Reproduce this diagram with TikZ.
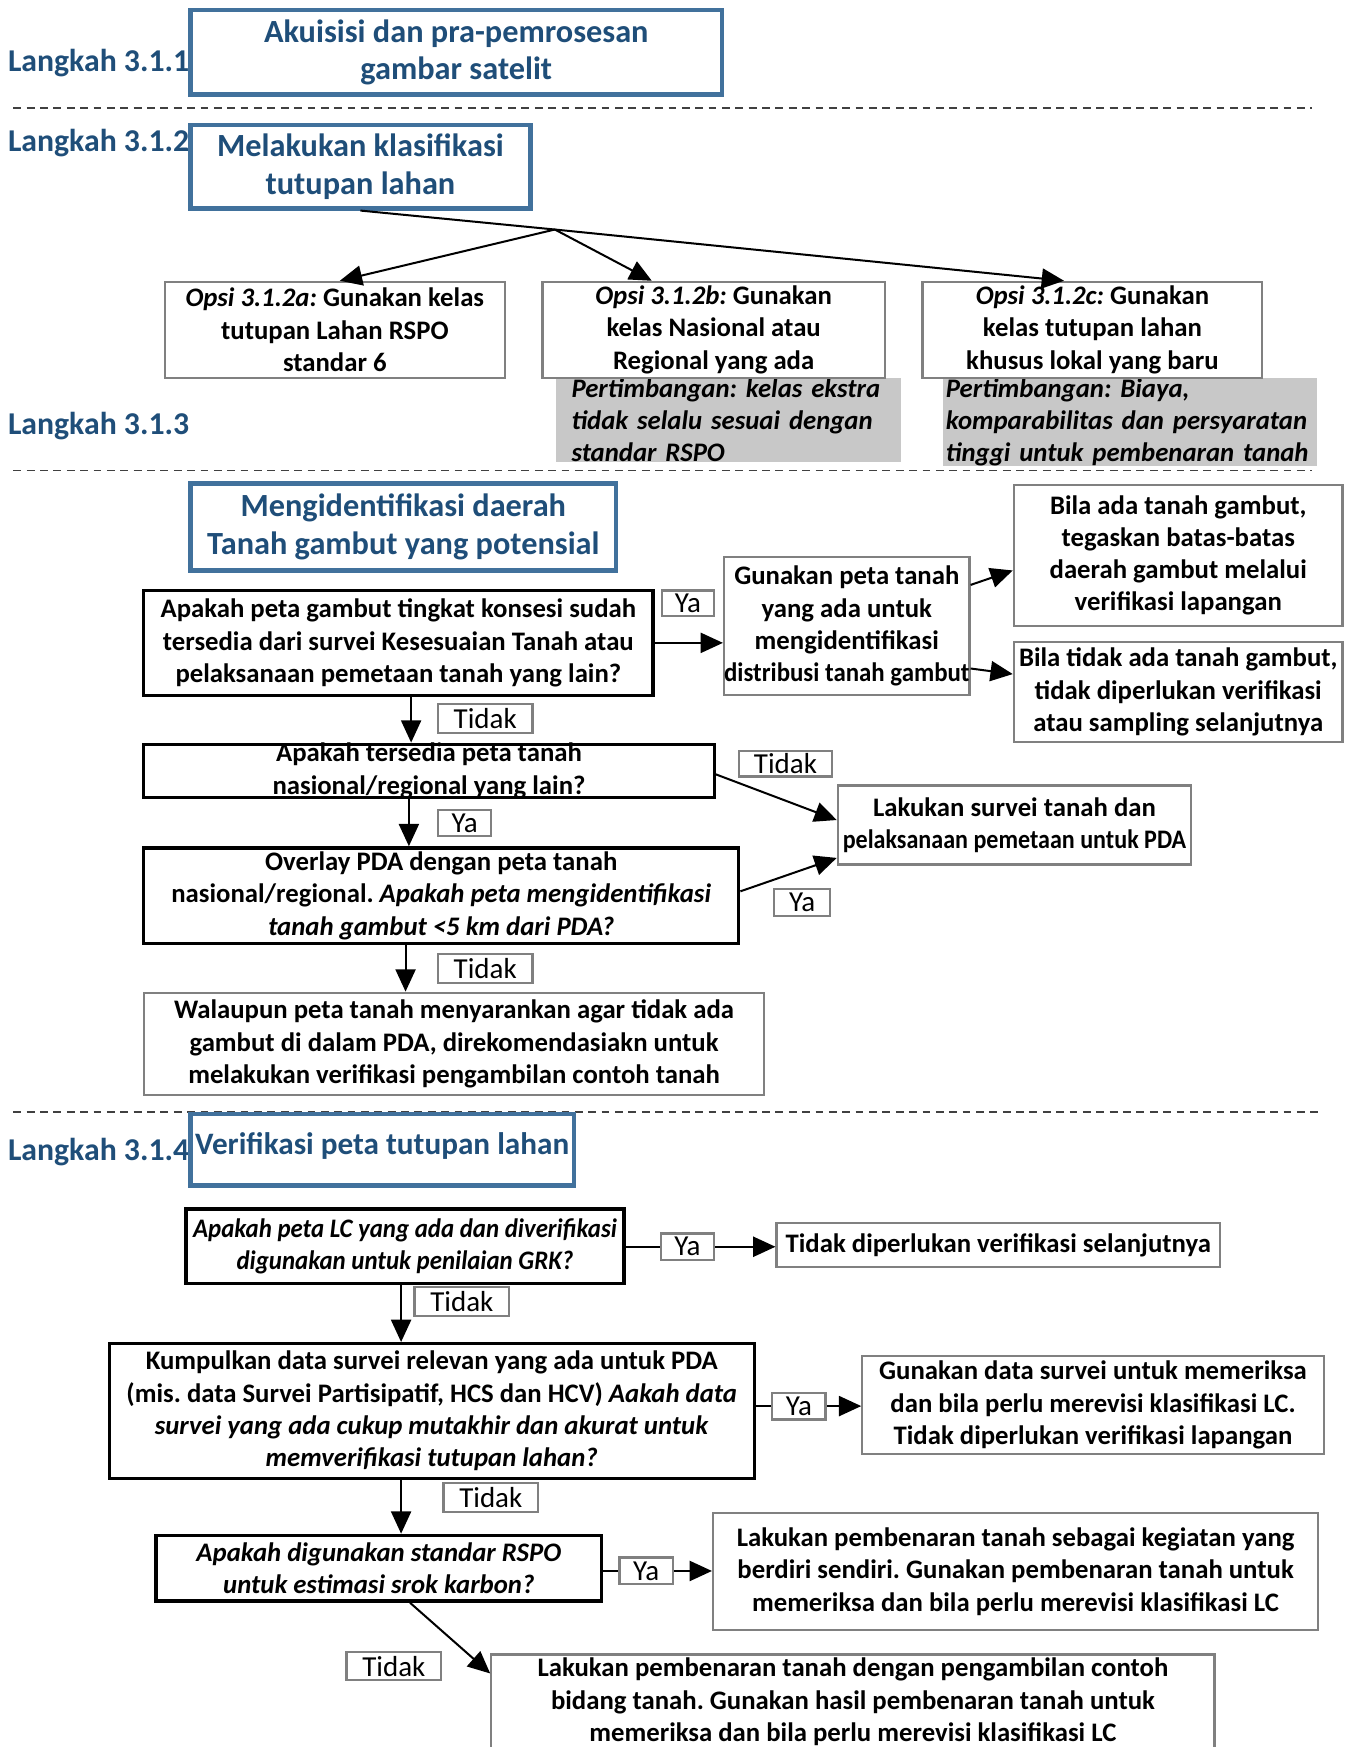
\documentclass[tikz,border=0pt]{standalone}
\usepackage{fontspec}
\setmainfont{Carlito}
\usetikzlibrary{arrows.meta,calc}
\definecolor{hblue}{RGB}{31,78,121}
\definecolor{hborder}{RGB}{65,113,156}
\definecolor{gborder}{RGB}{128,128,128}
\definecolor{gfill}{RGB}{200,200,200}
\newcommand{\narrow}[2]{{\addfontfeatures{FakeStretch=#1}#2}}
\begin{document}
\frenchspacing
\begin{tikzpicture}[x=1pt,y=-1pt,
 every node/.style={inner sep=0pt, align=center},
 body/.style={font=\fontsize{24}{29}\selectfont\bfseries},
 headbox/.style={draw=hborder, line width=4pt, fill=white, text=hblue, font=\fontsize{29}{34}\selectfont\bfseries},
 graybox/.style={draw=gborder, line width=2pt, fill=white, body},
 blackbox/.style={draw=black, line width=3pt, fill=white, body},
 notebox/.style={fill=gfill, body, align=left},
 lbl/.style={draw=gborder, line width=2pt, fill=white, font=\fontsize{26}{30}\selectfont},
 stepname/.style={anchor=west, text=hblue, font=\fontsize{28.5}{32}\selectfont\bfseries},
 conn/.style={line width=1.8pt, -{Triangle[length=20pt,width=18pt]}},
 dashline/.style={draw=black!75, line width=1.2pt, dash pattern=on 7pt off 5pt},
]
\useasboundingbox (0,0) rectangle (1213,1568);

% step labels
\node[stepname] (l1) at (7,57) {Langkah 3.1.1};
\node[stepname] (l2) at (7,128) {Langkah 3.1.2};
\node[stepname] (l3) at (7,382) {Langkah 3.1.3};
\node[stepname] (l4) at (7,1034) {Langkah 3.1.4};

% dashed separators
\draw[dashline] (12,97) -- (1178,97);
\draw[dashline] (12,422) -- (1178,422);
\draw[dashline] (12,998) -- (1183,998);

% step 3.1.1 / 3.1.2
\node[headbox, minimum width=477pt, minimum height=76pt] (box1) at (409.5,47) {Akuisisi dan pra-pemrosesan\\gambar satelit};
\node[headbox, minimum width=305pt, minimum height=75pt] (box2) at (323.5,149.5) {Melakukan klasifikasi\\tutupan lahan};

\node[notebox, minimum width=310pt, minimum height=76pt, text width=282pt, inner xsep=14pt] (pb) at (654,377) {\itshape Pertimbangan: kelas ekstra\\\itshape tidak selalu sesuai dengan\\\itshape standar RSPO};
\node[notebox, minimum width=336pt, minimum height=76pt, text width=330pt, inner xsep=3pt] (pc) at (1014,379) {\itshape Pertimbangan: Biaya,\\\itshape komparabilitas dan persyaratan\\\itshape tinggi untuk pembenaran tanah};

\node[graybox, minimum width=305pt, minimum height=86pt] (oa) at (300.5,296) {\textit{Opsi 3.1.2a:} Gunakan kelas\\tutupan Lahan RSPO\\standar 6};
\node[graybox, minimum width=307pt, minimum height=86pt] (ob) at (640.5,296) {\textit{Opsi 3.1.2b:} Gunakan\\kelas Nasional atau\\Regional yang ada};
\node[graybox, minimum width=305pt, minimum height=86pt] (oc) at (980.5,296) {\textit{Opsi 3.1.2c:} Gunakan\\kelas tutupan lahan\\khusus lokal yang baru};

\coordinate (J) at (498,206);
\draw[conn] (box2.south) -- (J) -- ([xshift=-25.5pt]oc.north);
\draw[conn] (J) -- ([xshift=4.5pt]oa.north);
\draw[conn] (J) -- ([xshift=-55.5pt]ob.north);

% step 3.1.3
\node[headbox, minimum width=382pt, minimum height=78pt] (box3) at (362,473) {Mengidentifikasi daerah\\Tanah gambut yang potensial};

\node[blackbox, minimum width=457pt, minimum height=94pt] (q1) at (357.5,577) {Apakah peta gambut tingkat konsesi sudah\\tersedia dari survei Kesesuaian Tanah atau\\pelaksanaan pemetaan tanah yang lain?};
\node[graybox, minimum width=218pt, minimum height=124pt] (g) at (760,562) {Gunakan peta tanah\\yang ada untuk\\mengidentifikasi\\\narrow{0.93}{distribusi tanah gambut}};
\node[graybox, minimum width=295pt, minimum height=127pt] (h1) at (1057.5,498.5) {Bila ada tanah gambut,\\tegaskan batas-batas\\daerah gambut melalui\\verifikasi lapangan};
\node[graybox, minimum width=295pt, minimum height=90pt] (h2) at (1057.5,621) {Bila tidak ada tanah gambut,\\tidak diperlukan verifikasi\\atau sampling selanjutnya};
\node[blackbox, minimum width=512pt, minimum height=48pt, inner ysep=-3pt, fill=none] (q2) at (385,692) {Apakah tersedia peta tanah\\nasional/regional yang lain?};
\node[graybox, minimum width=317pt, minimum height=71pt] (s) at (910.5,740.5) {Lakukan survei tanah dan\\\narrow{0.9}{pelaksanaan pemetaan untuk PDA}};
\node[blackbox, minimum width=534pt, minimum height=86pt] (q3) at (396,804) {Overlay PDA dengan peta tanah\\nasional/regional. \textit{Apakah peta mengidentifikasi}\\\textit{tanah gambut <5 km dari PDA?}};
\node[graybox, minimum width=557pt, minimum height=92pt] (w) at (407.5,937) {Walaupun peta tanah menyarankan agar tidak ada\\gambut di dalam PDA, direkomendasiakn untuk\\melakukan verifikasi pengambilan contoh tanah};

\draw[conn] (q1.east) -- (q1.east -| g.west);
\draw[conn] ([yshift=37pt]g.east) -- ([yshift=-13.5pt]h1.west);
\draw[conn] ([yshift=-38pt]g.east) -- ([yshift=16pt]h2.west);
\draw[conn] ([xshift=11.5pt]q1.south) -- ([xshift=-16pt]q2.north);
\draw[conn] ([yshift=-3pt]q2.east) -- ([yshift=4.5pt]s.west);
\draw[conn] ([xshift=-18pt]q2.south) -- ([xshift=-29pt]q3.north);
\draw[conn] ([yshift=4pt]q3.east) -- ([yshift=-29.5pt]s.west);
\draw[conn] ([xshift=-32pt]q3.south) -- ([xshift=-43.5pt]w.north);

\node[lbl, minimum width=47pt, minimum height=23pt] (yq1) at (617.5,541.5) {Ya};
\node[lbl, minimum width=85pt, minimum height=26pt] (tq1) at (435.5,645) {Tidak};
\node[lbl, minimum width=84pt, minimum height=23pt] (tq2) at (705,685.5) {Tidak};
\node[lbl, minimum width=48pt, minimum height=23pt] (yq2) at (417,738.5) {Ya};
\node[lbl, minimum width=50pt, minimum height=24pt] (yq3) at (720,810) {Ya};
\node[lbl, minimum width=85pt, minimum height=26pt] (tq3) at (435.5,869) {Tidak};

% step 3.1.4
\node[headbox, minimum width=344pt, minimum height=64pt, font=\fontsize{28}{34}\selectfont\bfseries, text height=28pt, text depth=20pt] (box4) at (343,1032) {Verifikasi peta tutupan lahan};

\node[blackbox, minimum width=393pt, minimum height=67pt] (q4) at (363.5,1118.5) {\itshape\narrow{0.93}{Apakah peta LC yang ada dan diverifikasi}\\\itshape\narrow{0.93}{digunakan untuk penilaian GRK?}};
\node[graybox, minimum width=398pt, minimum height=39pt] (t) at (896,1117.5) {Tidak diperlukan verifikasi selanjutnya};
\node[blackbox, minimum width=579pt, minimum height=121pt] (k) at (387.5,1266.5) {Kumpulkan data survei relevan yang ada untuk PDA\\(mis. data Survei Partisipatif, HCS dan HCV) \textit{Aakah data}\\\textit{survei yang ada cukup mutakhir dan akurat untuk}\\\textit{memverifikasi tutupan lahan?}};
\node[graybox, minimum width=414pt, minimum height=88pt] (gd) at (981,1261) {Gunakan data survei untuk memeriksa\\dan bila perlu merevisi klasifikasi LC.\\Tidak diperlukan verifikasi lapangan};
\node[blackbox, minimum width=400pt, minimum height=59pt] (r) at (340,1407.5) {\itshape Apakah digunakan standar RSPO\\\itshape untuk estimasi srok karbon?};
\node[graybox, minimum width=543pt, minimum height=105pt] (lp1) at (911.5,1410.5) {Lakukan pembenaran tanah sebagai kegiatan yang\\berdiri sendiri. Gunakan pembenaran tanah untuk\\memeriksa dan bila perlu merevisi klasifikasi LC};
\node[graybox, minimum width=649pt, minimum height=85pt] (lp2) at (765.5,1527.5) {Lakukan pembenaran tanah dengan pengambilan contoh\\bidang tanah. Gunakan hasil pembenaran tanah untuk\\memeriksa dan bila perlu merevisi klasifikasi LC};

\draw[conn] ([yshift=-0.5pt]q4.east) -- ([yshift=-0.5pt]q4.east -| t.west);
\draw[conn] ([xshift=-3.5pt]q4.south) -- ([xshift=-27.5pt]k.north);
\draw[conn] ([yshift=4.5pt]k.east) -- ([yshift=4.5pt]k.east -| gd.west);
\draw[conn] ([xshift=-27.5pt]k.south) -- ([xshift=20pt]r.north);
\draw[conn] ([yshift=-2.5pt]r.east) -- ([yshift=-2.5pt]r.east -| lp1.west);
\draw[conn] ([xshift=28pt]r.south) -- ([yshift=-18pt]lp2.north west);

\node[lbl, minimum width=48pt, minimum height=24pt] (yq4) at (617,1119) {Ya};
\node[lbl, minimum width=85pt, minimum height=26pt] (tq4) at (414.5,1168) {Tidak};
\node[lbl, minimum width=48pt, minimum height=24pt] (yk) at (717,1262) {Ya};
\node[lbl, minimum width=85pt, minimum height=26pt] (tk) at (440.5,1344) {Tidak};
\node[lbl, minimum width=48pt, minimum height=24pt] (yr) at (580,1410) {Ya};
\node[lbl, minimum width=85pt, minimum height=25pt] (tr) at (353.5,1495.5) {Tidak};
\end{tikzpicture}
\end{document}
